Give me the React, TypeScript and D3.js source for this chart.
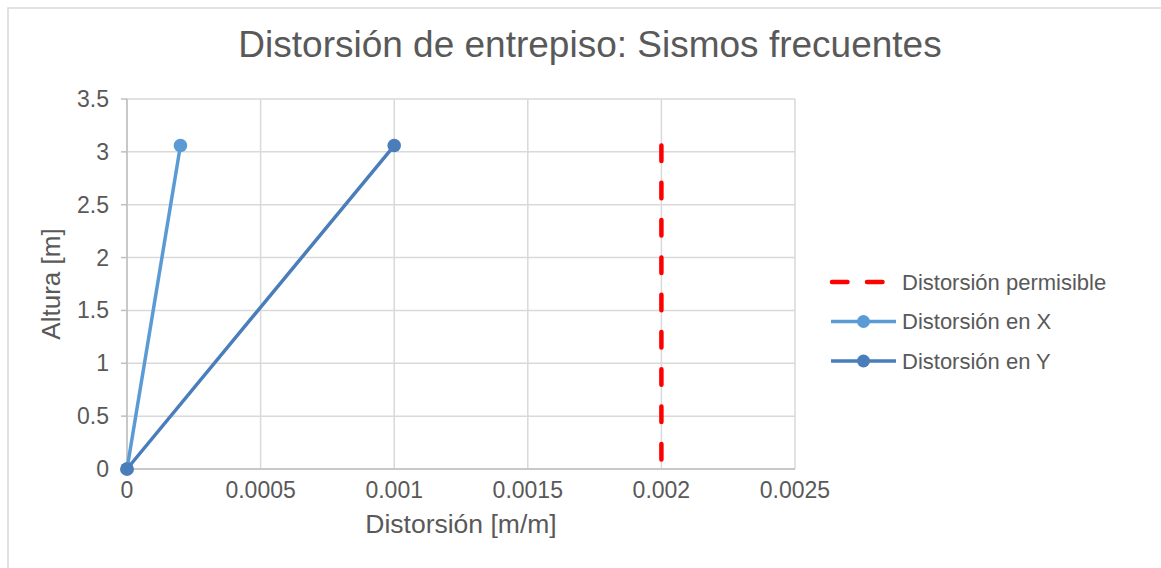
import React from "react";
import * as d3 from "d3";

const title = "Distorsión de entrepiso: Sismos frecuentes";
const xAxisTitle = "Distorsión [m/m]";
const yAxisTitle = "Altura [m]";
const xTicks = [0, 0.0005, 0.001, 0.0015, 0.002, 0.0025];
const xTickLabels = ["0", "0.0005", "0.001", "0.0015", "0.002", "0.0025"];
const yTicks = [0, 0.5, 1, 1.5, 2, 2.5, 3, 3.5];
const yTickLabels = ["0", "0.5", "1", "1.5", "2", "2.5", "3", "3.5"];

const permisibleX = [0.002, 0.002];
const permisibleY = [3.06, 0];
const distXx = [0, 0.0002];
const distXy = [0, 3.06];
const distYx = [0, 0.001];
const distYy = [0, 3.06];

const seriesNames = ["Distorsión permisible", "Distorsión en X", "Distorsión en Y"];
const colors = ["#FF0000", "#5B9BD5", "#4A7EBB"];

const W = 1161;
const H = 568;
const FONT = "'Liberation Sans', Arial, sans-serif";
const TEXT = "#595959";

export default function App() {
  const x = d3.scaleLinear().domain([0, 0.0025]).range([127, 795]);
  const y = d3.scaleLinear().domain([0, 3.5]).range([469, 99]);
  const line = d3
    .line<[number, number]>()
    .x((d) => x(d[0]))
    .y((d) => y(d[1]));

  const mk = (xs: number[], ys: number[]) => xs.map((v, i) => [v, ys[i]] as [number, number]);
  const perm = mk(permisibleX, permisibleY);
  const sx = mk(distXx, distXy);
  const sy = mk(distYx, distYy);

  const legendY = [282, 321.5, 361];

  return (
    <svg
      width={W}
      height={H}
      style={{ position: "absolute", left: 0, top: 0, display: "block" }}
      fontFamily={FONT}
    >
      <rect x={0} y={0} width={W} height={H} fill="#fff" />
      <rect x={8} y={8} width={W + 20} height={H + 20} fill="#fff" stroke="#d9d9d9" strokeWidth={1.5} />
      <text x={590} y={57} textAnchor="middle" fontSize={37} fill={TEXT}>
        {title}
      </text>
      {/* grid */}
      {yTicks.map((t) => (
        <line key={"gy" + t} x1={x(0)} x2={x(0.0025)} y1={y(t)} y2={y(t)} stroke="#d9d9d9" strokeWidth={1.5} />
      ))}
      {xTicks.map((t) => (
        <line key={"gx" + t} x1={x(t)} x2={x(t)} y1={y(0)} y2={y(3.5)} stroke="#d9d9d9" strokeWidth={1.5} />
      ))}
      {/* axes */}
      <line x1={x(0)} x2={x(0.0025)} y1={y(0)} y2={y(0)} stroke="#bfbfbf" strokeWidth={1.5} />
      <line x1={x(0)} x2={x(0)} y1={y(0)} y2={y(3.5)} stroke="#bfbfbf" strokeWidth={1.5} />
      {yTicks.map((t) => (
        <line key={"ty" + t} x1={x(0) - 6} x2={x(0)} y1={y(t)} y2={y(t)} stroke="#bfbfbf" strokeWidth={1.5} />
      ))}
      {yTicks.map((t, i) => (
        <text key={"ly" + t} x={109} y={y(t)} dy="0.35em" textAnchor="end" fontSize={23} fill={TEXT}>
          {yTickLabels[i]}
        </text>
      ))}
      {xTicks.map((t, i) => (
        <text key={"lx" + t} x={x(t)} y={498} textAnchor="middle" fontSize={23} fill={TEXT}>
          {xTickLabels[i]}
        </text>
      ))}
      <text x={461} y={533} textAnchor="middle" fontSize={26.5} fill={TEXT}>
        {xAxisTitle}
      </text>
      <text
        transform={`translate(60, ${y(1.75)}) rotate(-90)`}
        textAnchor="middle"
        fontSize={26}
        fill={TEXT}
      >
        {yAxisTitle}
      </text>
      {/* series */}
      <path
        d={line(perm) || ""}
        fill="none"
        stroke={colors[0]}
        strokeWidth={4.5}
        strokeDasharray="15.5 21.8"
        strokeLinecap="round"
      />
      <path d={line(sx) || ""} fill="none" stroke={colors[1]} strokeWidth={3.5} strokeLinecap="round" />
      {sx.map((d, i) => (
        <circle key={"cx" + i} cx={x(d[0])} cy={y(d[1])} r={6.8} fill={colors[1]} />
      ))}
      <path d={line(sy) || ""} fill="none" stroke={colors[2]} strokeWidth={3.5} strokeLinecap="round" />
      {sy.map((d, i) => (
        <circle key={"cy" + i} cx={x(d[0])} cy={y(d[1])} r={6.8} fill={colors[2]} />
      ))}
      {/* legend */}
      {seriesNames.map((name, i) => (
        <g key={name}>
          {i === 0 ? (
            <line
              x1={832}
              x2={884}
              y1={legendY[i]}
              y2={legendY[i]}
              stroke={colors[0]}
              strokeWidth={4.5}
              strokeDasharray="15.5 19.5"
              strokeLinecap="round"
            />
          ) : (
            <>
              <line x1={831} x2={896} y1={legendY[i]} y2={legendY[i]} stroke={colors[i]} strokeWidth={3.5} />
              <circle cx={863.5} cy={legendY[i]} r={6.5} fill={colors[i]} />
            </>
          )}
          <text x={902} y={legendY[i]} dy="0.35em" fontSize={22} fill={TEXT}>
            {name}
          </text>
        </g>
      ))}
    </svg>
  );
}
